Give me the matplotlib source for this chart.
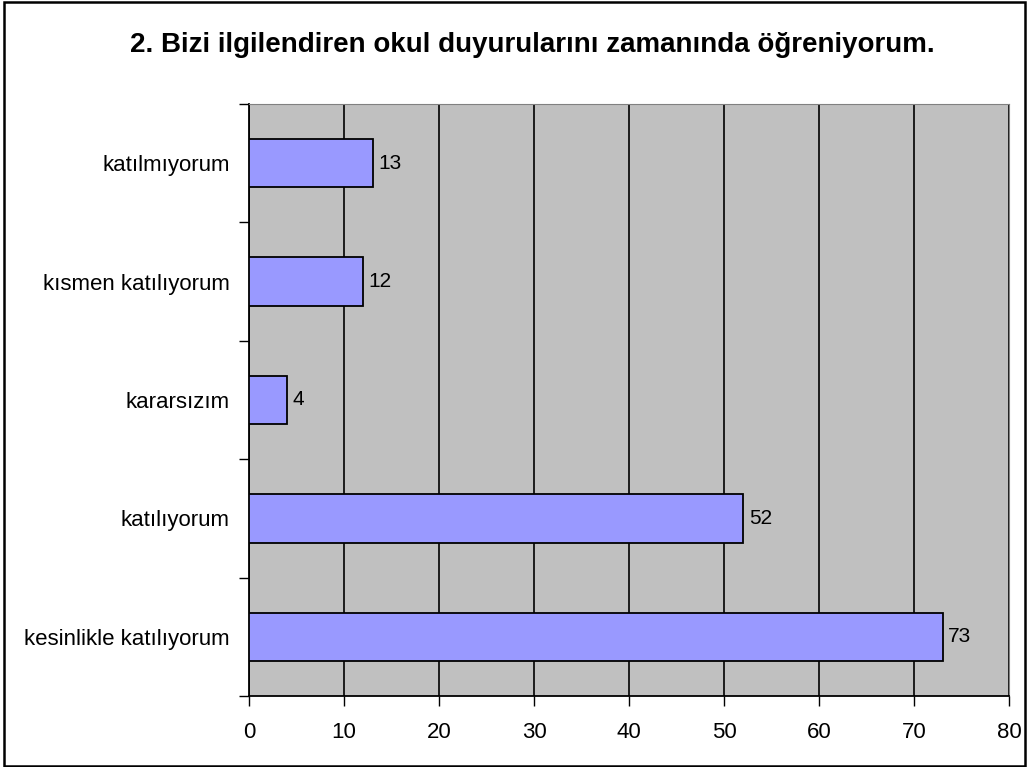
import matplotlib.pyplot as plt
from matplotlib.patches import Rectangle

plt.rcParams['font.family'] = ['Liberation Sans', 'DejaVu Sans']

kategoriler = ["kesinlikle katılıyorum", "katılıyorum", "kararsızım",
               "kısmen katılıyorum", "katılmıyorum"]
degerler = [73, 52, 4, 12, 13]
x_ticks = [0, 10, 20, 30, 40, 50, 60, 70, 80]
baslik = "2. Bizi ilgilendiren okul duyurularını zamanında öğreniyorum."

fig = plt.figure(figsize=(10.30, 7.67), dpi=100)
ax = fig.add_axes([249 / 1030, 1 - 696 / 767, 760 / 1030, 592 / 767])

ax.set_facecolor('#C0C0C0')
pos = list(range(len(kategoriler)))
bars = ax.barh(pos, degerler, height=0.41, color='#9999FF',
               edgecolor='black', linewidth=1.3, zorder=3)
for b, v in zip(bars, degerler):
    ax.text(b.get_width() + 0.6, b.get_y() + b.get_height() / 2, str(v),
            va='center', ha='left', fontsize=15, zorder=4)

ax.set_xlim(0, 80)
ax.set_ylim(-0.5, len(kategoriler) - 0.5)
ax.set_xticks(x_ticks)
ax.set_xticklabels([str(t) for t in x_ticks], fontsize=16)
ax.set_yticks(pos)
ax.set_yticklabels(kategoriler, fontsize=16)
ax.tick_params(axis='y', length=0, pad=14)
ax.set_yticks([p - 0.5 for p in range(len(kategoriler) + 1)], minor=True)
ax.tick_params(axis='y', which='minor', length=7, width=1, direction='out')
ax.tick_params(axis='x', length=7, width=1, direction='out', pad=12)

ax.grid(axis='x', color='black', linewidth=1.2, zorder=1)
ax.set_axisbelow(True)
ax.spines['left'].set_linewidth(1.3)
ax.spines['bottom'].set_linewidth(1.3)
ax.spines['top'].set_color('#808080')
ax.spines['right'].set_color('#808080')

fig.text(532 / 1030, 1 - 52 / 767, baslik, ha='center', va='baseline',
         fontsize=20, fontweight='bold')

fig.patches.append(Rectangle((4 / 1030, 1 / 767), 1021 / 1030, 764 / 767,
                             transform=fig.transFigure, fill=False,
                             edgecolor='black', linewidth=1.8))

fig.savefig('out.png', dpi=100)
